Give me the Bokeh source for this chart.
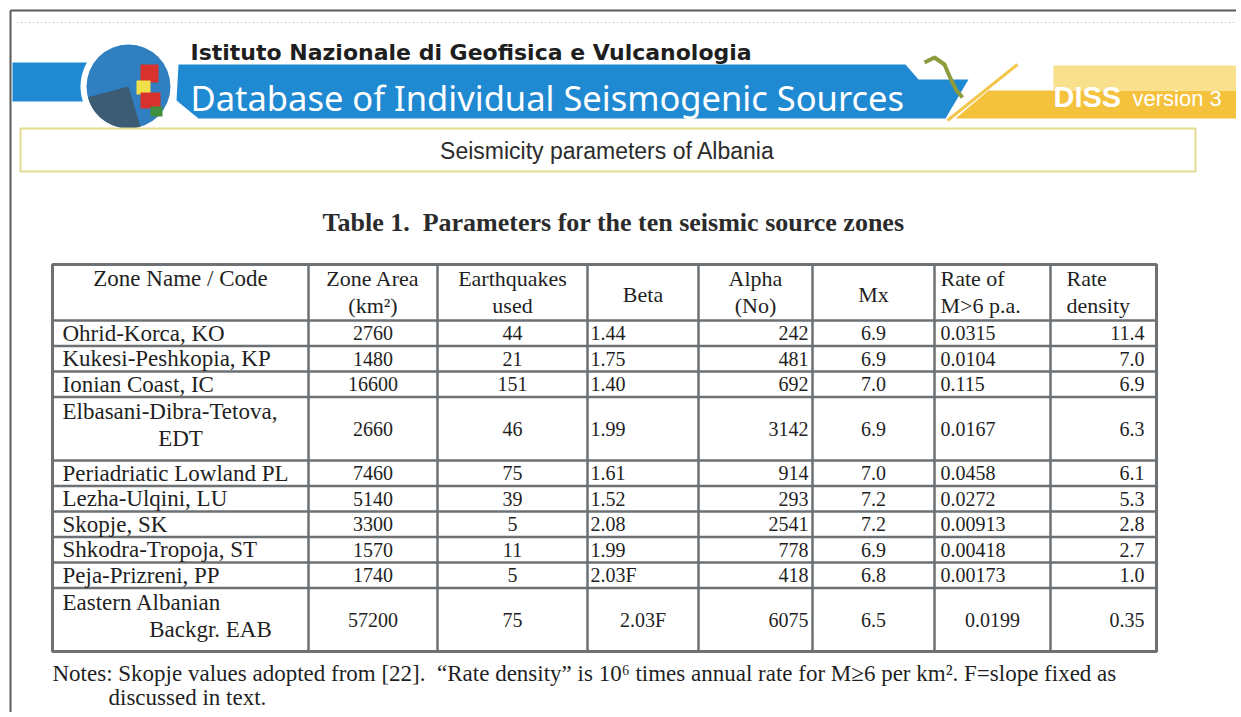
from collections import defaultdict
from bokeh.plotting import figure
from bokeh.models import Range1d
from bokeh.core.properties import value
from bokeh.embed import file_html
from bokeh.resources import INLINE

# ---------------- data ----------------
institute = "Istituto Nazionale di Geofisica e Vulcanologia"
database_title = "Database of Individual Seismogenic Sources"
page_title = "Seismicity parameters of Albania"
table_title = "Table 1.\u00a0 Parameters for the ten seismic source zones"

headers = [["Zone Name / Code"], ["Zone Area", "(km\u00b2)"], ["Earthquakes", "used"], ["Beta"],
           ["Alpha", "(No)"], ["Mx"], ["Rate of", "M>6 p.a."], ["Rate", "density"]]
zone_names = [["Ohrid-Korca, KO"], ["Kukesi-Peshkopia, KP"], ["Ionian Coast, IC"],
              ["Elbasani-Dibra-Tetova,", "EDT"], ["Periadriatic Lowland PL"], ["Lezha-Ulqini, LU"],
              ["Skopje, SK"], ["Shkodra-Tropoja, ST"], ["Peja-Prizreni, PP"],
              ["Eastern Albanian", "Backgr. EAB"]]
zone_area = [2760, 1480, 16600, 2660, 7460, 5140, 3300, 1570, 1740, 57200]
quakes_used = [44, 21, 151, 46, 75, 39, 5, 11, 5, 75]
beta = ["1.44", "1.75", "1.40", "1.99", "1.61", "1.52", "2.08", "1.99", "2.03F", "2.03F"]
alpha = [242, 481, 692, 3142, 914, 293, 2541, 778, 418, 6075]
mx = [6.9, 6.9, 7.0, 6.9, 7.0, 7.2, 7.2, 6.9, 6.8, 6.5]
rate_m6 = ["0.0315", "0.0104", "0.115", "0.0167", "0.0458", "0.0272", "0.00913", "0.00418", "0.00173", "0.0199"]
rate_density = ["11.4", "7.0", "6.9", "6.3", "6.1", "5.3", "2.8", "2.7", "1.0", "0.35"]
notes = ["Notes: Skopje values adopted from [22].\u00a0 \u201cRate density\u201d is 10\u2076 times annual rate for M\u22656 per km\u00b2. F=slope fixed as",
         "discussed in text."]

# ---------------- layout / style ----------------
W, H = 1236, 712
p = figure(width=W, height=H, x_range=Range1d(0, W), y_range=Range1d(H, 0),
           output_backend="svg", toolbar_location=None, min_border=0,
           x_axis_location=None, y_axis_location=None)
p.grid.visible = False
p.outline_line_color = None
p.background_fill_color = "white"
p.border_fill_color = "white"

groups = defaultdict(lambda: {"x": [], "y": [], "text": []})


def put(x, y, s, size, font="Liberation Serif", style="normal", color="#1f1f1f", align="left"):
    g = groups[(font, size, style, color, align)]
    g["x"].append(x)
    g["y"].append(y)
    g["text"].append(s)


# page frame
p.line([10, 1241], [10, 10], line_color="#5a5a5a", line_width=2)
p.line([10, 10], [10, 717], line_color="#5a5a5a", line_width=2)
p.line([16, 1241], [22, 22], line_color="#d2d2d2", line_width=1, line_dash="2 2")

# banner: blue
blue = "#1f8ad2"
p.quad(left=[12], right=[90], top=[62], bottom=[101], fill_color=blue, line_color=None)
p.patch([178, 905, 918, 968, 945, 198, 176],
        [64, 64, 79, 79, 118, 118, 100], fill_color=blue, line_color=None)
# yellow parts
p.patch([955, 1241, 1241, 988], [118, 118, 90, 90], fill_color="#f4c23c", line_color=None)
p.quad(left=[1053], right=[1241], top=[65], bottom=[90], fill_color="#f9e08c", line_color=None)
p.line([947, 1017], [120, 64], line_color="#f3c54a", line_width=3)
p.line([924, 934, 944, 950, 956, 962], [62, 57, 64, 78, 90, 97], line_color="#8d9b3c", line_width=4)
# globe
p.circle(x=[128], y=[86], radius=48, fill_color="white", line_color=None)
p.circle(x=[128], y=[86], radius=42, fill_color="#2f7fc1", line_color=None)
p.wedge(x=[128], y=[86], radius=42, start_angle=3.4, end_angle=5.0, fill_color="#3e5666",
        line_color=None, fill_alpha=0.85)
p.quad(left=[140], right=[158], top=[64], bottom=[82], fill_color="#d8322f", line_color=None)
p.quad(left=[136], right=[150], top=[80], bottom=[94], fill_color="#f2e04a", line_color=None)
p.quad(left=[140], right=[160], top=[92], bottom=[108], fill_color="#d8322f", line_color=None)
p.quad(left=[150], right=[162], top=[106], bottom=[116], fill_color="#3f8f3f", line_color=None)

put(190, 52, institute, 22, font="DejaVu Sans", style="bold", color="#1e1e1e")
put(190, 97, database_title, 34.5, font="Noto Sans", color="white")
put(1053, 96, "DISS", 29, font="Liberation Sans", style="bold", color="white")
put(1132, 98, "version 3", 22, font="Liberation Sans", color="white")

# sub-title box
p.quad(left=[20], right=[1195], top=[128], bottom=[171], fill_color="white",
       line_color="#e3dc8e", line_width=2)
put(607, 150, page_title, 23, font="Liberation Sans", color="#2b2b2b", align="center")

# table title
put(613, 222, table_title, 26, style="bold", color="#2b2b2b", align="center")

# ---------------- table ----------------
col_edges = [52, 308, 437, 587, 698, 812, 934, 1050, 1156]
table_top = 264
header_h = 56
line_h = 25.5
row_heights = [line_h + 38 * (len(z) - 1) for z in zone_names]
row_tops = [table_top + header_h]
for h in row_heights:
    row_tops.append(row_tops[-1] + h)
table_bottom = row_tops[-1]

grid_col = "#6d7173"
p.segment(x0=[col_edges[0]] * len(row_tops), x1=[col_edges[-1]] * len(row_tops),
          y0=row_tops, y1=row_tops, line_color=grid_col, line_width=2.5)
p.segment(x0=col_edges, x1=col_edges, y0=[table_top] * len(col_edges),
          y1=[table_bottom] * len(col_edges), line_color=grid_col, line_width=2.5)
p.quad(left=[col_edges[0]], right=[col_edges[-1]], top=[table_top], bottom=[table_bottom],
       fill_color=None, line_color=grid_col, line_width=3)

aligns = ["left", "center", "center", "left", "right", "center", "left", "right"]
pads = [10, 0, 0, 3, 4, 0, 6, 12]
FS_TXT = 23   # names and headers
FS_NUM = 20   # numeric cells


def cell_x(ci, align):
    l, r = col_edges[ci], col_edges[ci + 1]
    if align == "left":
        return l + pads[ci]
    if align == "right":
        return r - pads[ci]
    return (l + r) / 2


# headers
for ci, hdr in enumerate(headers):
    al = "left" if ci >= 6 else "center"
    xx = cell_x(ci, al) + (4 if ci == 7 else 0)
    if len(hdr) == 2:
        put(xx, table_top + 14, hdr[0], FS_TXT - 1, align=al)
        put(xx, table_top + 41, hdr[1], FS_TXT - 1, align=al)
    elif ci == 0:
        put(xx, table_top + 14, hdr[0], FS_TXT, align=al)
    else:
        put(xx, table_top + 30, hdr[0], FS_TXT - 1, align=al)

columns = [zone_area, quakes_used, beta, alpha, [f"{v:.1f}" for v in mx], rate_m6, rate_density]
for ri, z in enumerate(zone_names):
    top, bot = row_tops[ri], row_tops[ri + 1]
    yc = (top + bot) / 2
    if len(z) == 1:
        put(cell_x(0, "left"), yc, z[0], FS_TXT)
    else:
        put(cell_x(0, "left"), top + 14, z[0], FS_TXT)
        # continuation line of the zone name
        xc = (col_edges[0] + col_edges[1]) / 2 + (0 if ri < 9 else 30)
        put(xc, top + 41, z[1], FS_TXT, align="center")
    multi = len(z) > 1
    for k, col in enumerate(columns):
        ci = k + 1
        al = aligns[ci]
        if multi and ri == len(zone_names) - 1 and ci in (3, 6):
            al = "center"
        put(cell_x(ci, al), yc, str(col[ri]), FS_NUM, align=al)

# notes
put(52, table_bottom + 22, notes[0], 23)
put(108, table_bottom + 46, notes[1], 23)

for (font, size, style, color, align), g in groups.items():
    p.text(x=g["x"], y=g["y"], text=g["text"], text_font=value(font),
           text_font_size=f"{size}px", text_font_style=style, text_color=color,
           text_align=align, text_baseline="middle")

open("out.html", "w").write(file_html(p, INLINE))
